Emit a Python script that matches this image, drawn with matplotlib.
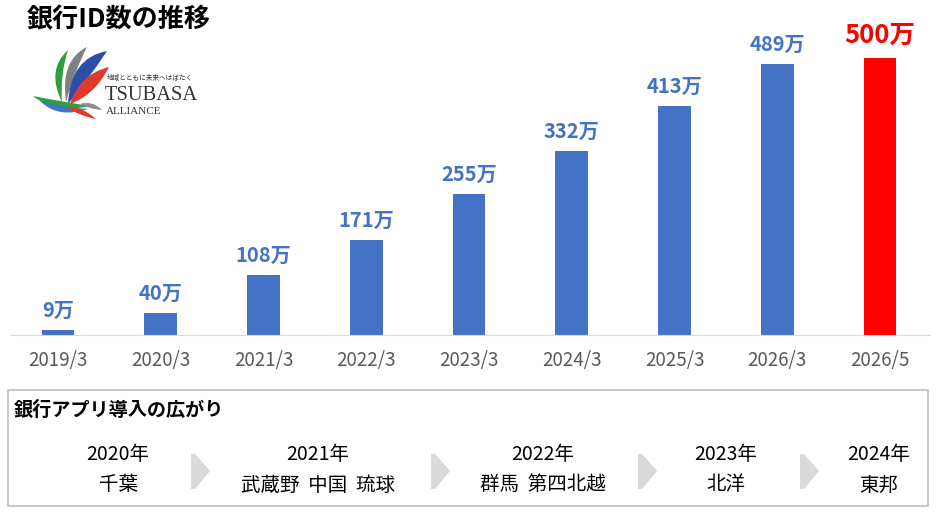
import matplotlib.pyplot as plt
from matplotlib import patches
from matplotlib.path import Path

plt.rcParams['font.family'] = ['Noto Sans CJK JP', 'DejaVu Sans']

# chart data
periods = ['2019/3', '2020/3', '2021/3', '2022/3', '2023/3', '2024/3', '2025/3', '2026/3', '2026/5']
ids = [9, 40, 108, 171, 255, 332, 413, 489, 500]
bar_colors = ['#4472C4'] * 8 + ['#FF0000']

# app rollout panel
years = ['2020年', '2021年', '2022年', '2023年', '2024年']
banks = ['千葉', '武蔵野  中国  琉球', '群馬  第四北越', '北洋', '東邦']
col_x = [118, 318, 543, 726, 879]
arrow_x = [201, 441, 648, 810]

fig = plt.figure(figsize=(9.4, 5.14), dpi=100)

# background layer in pixel coords for decorations
bg = fig.add_axes([0, 0, 1, 1])
bg.set_xlim(0, 940)
bg.set_ylim(514, 0)
bg.axis('off')

ax = fig.add_axes([10 / 940, (514 - 335) / 514, 920 / 940, (335 - 25) / 514])
x = list(range(len(ids)))
ax.bar(x, ids, width=0.32, color=bar_colors)
ax.set_xlim(-0.467, 8.487)
ax.set_ylim(0, 560)
ax.set_yticks([])
ax.set_xticks(x, periods)
ax.tick_params(axis='x', length=0, pad=11, labelsize=13.5, labelcolor='#595959')
for s in ['top', 'left', 'right']:
    ax.spines[s].set_visible(False)
ax.spines['bottom'].set_color('#D9D9D9')
ax.patch.set_alpha(0)

for i, v in enumerate(ids):
    last = i == len(ids) - 1
    ax.annotate(f'{v}万', (i, v), xytext=(0, 6.5), textcoords='offset points',
                ha='center', va='bottom', fontweight='bold',
                color=bar_colors[i], fontsize=18.5 if last else 14.5)

# title
bg.text(27, 20, '銀行ID数の推移', fontsize=18.8, fontweight='bold', va='center', ha='left')

# logo (rough)
def feather(a, b, c1, c2, color):
    verts = [a, c1, b, c2, a]
    codes = [Path.MOVETO, Path.CURVE3, Path.CURVE3, Path.CURVE3, Path.CURVE3]
    bg.add_patch(patches.PathPatch(Path(verts, codes), facecolor=color, edgecolor='none'))

feather((68, 50), (62, 102), (46, 70), (60, 74), '#2E9E3E')
feather((87, 47), (66, 102), (60, 60), (75, 70), '#808080')
feather((107, 51), (68, 104), (70, 58), (88, 80), '#2B4FA8')
feather((109, 67), (70, 104), (80, 74), (95, 95), '#E03A2F')
feather((33, 96), (90, 106), (55, 114), (58, 101), '#2E9E3E')
feather((40, 101), (88, 109), (58, 119), (60, 107), '#3C78C8')
feather((66, 107), (96, 119), (82, 106), (80, 116), '#E03A2F')
feather((80, 104), (102, 110), (92, 100), (90, 109), '#8C8C8C')
bg.text(150, 78, '地域とともに未来へはばたく', fontsize=4.8, ha='center', va='center', color='#333333')
bg.text(105, 96, 'TSUBASA', fontsize=14.8, family='Liberation Serif', ha='left', va='center', color='#333333')
bg.text(106, 111, 'ALLIANCE', fontsize=8, family='Liberation Serif', ha='left', va='center', color='#333333')

# rollout box
bg.add_patch(patches.Rectangle((8, 390), 920, 116, fill=False, edgecolor='#BFBFBF', lw=1.2))
bg.text(14, 410, '銀行アプリ導入の広がり', fontsize=13.8, fontweight='bold', va='center', ha='left')
for cx, yr, bk in zip(col_x, years, banks):
    bg.text(cx, 454, yr, fontsize=14, ha='center', va='center')
    bg.text(cx, 485, bk, fontsize=14, ha='center', va='center')
for axx in arrow_x:
    pts = [(axx - 10, 454), (axx - 6, 454), (axx + 9, 471), (axx - 6, 489), (axx - 10, 489)]
    bg.add_patch(patches.Polygon(pts, closed=True, facecolor='#D9D9D9', edgecolor='none'))

fig.savefig('out.png', dpi=100)
